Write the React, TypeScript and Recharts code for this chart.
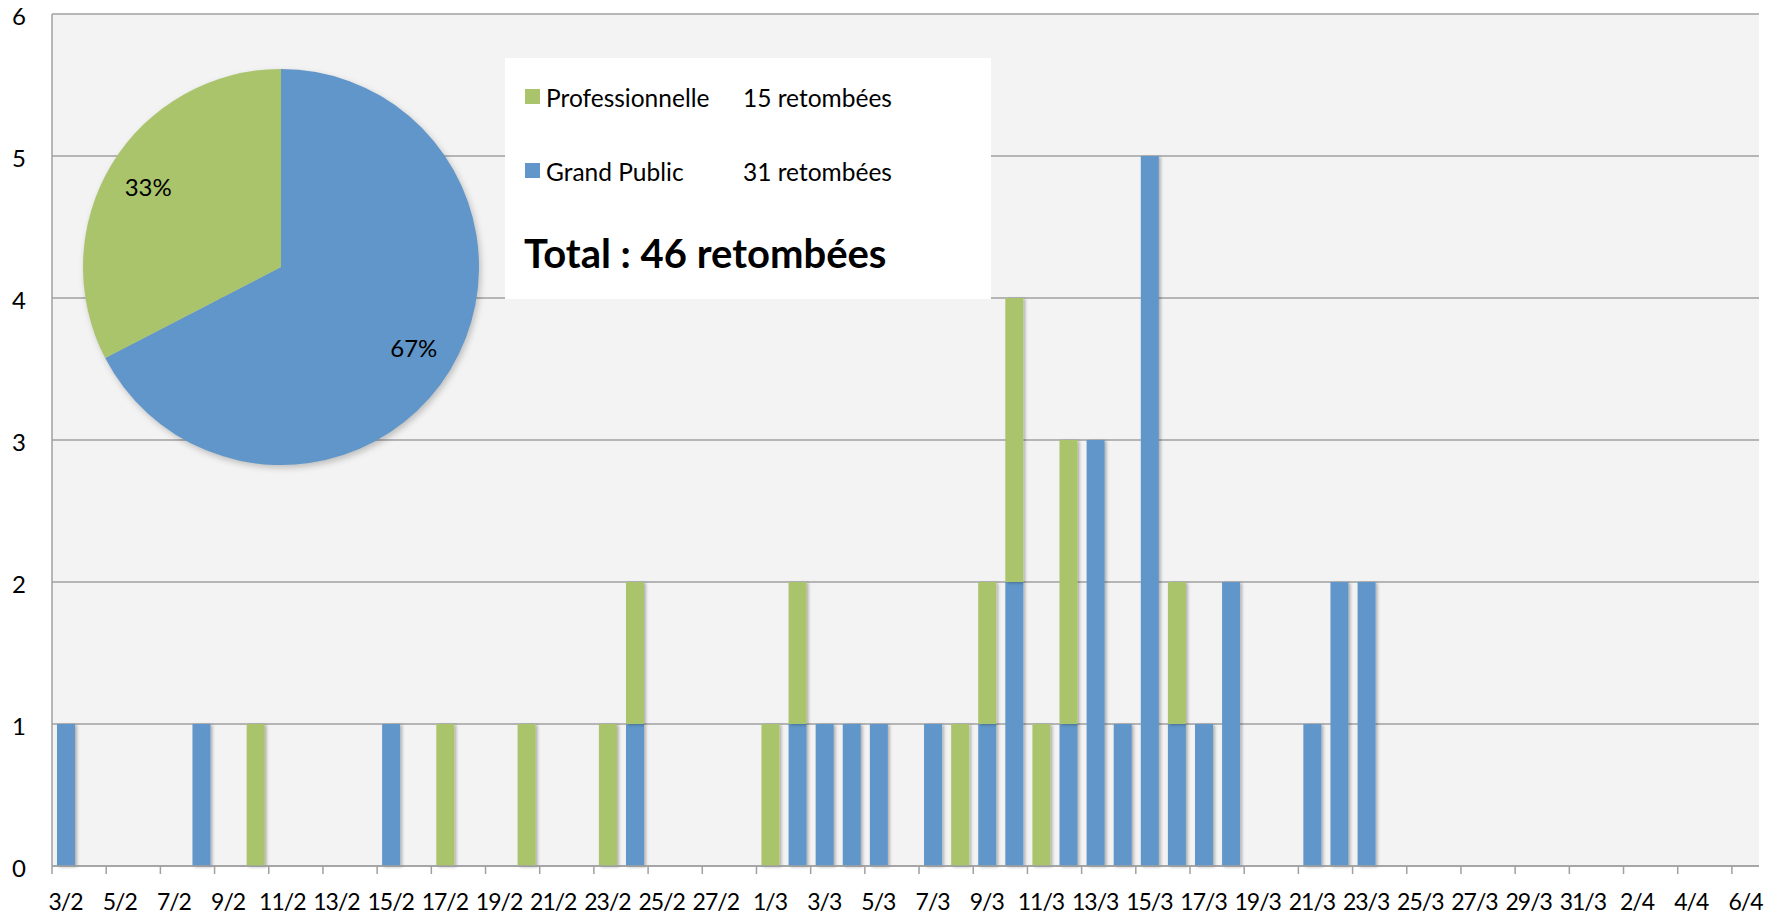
import React from 'react';
import { BarChart, Bar, XAxis, YAxis, CartesianGrid, PieChart, Pie, Cell } from 'recharts';

// Jours affichés sur l'axe (3 février – 6 avril)
const days = [
  '3/2', '4/2', '5/2', '6/2', '7/2', '8/2', '9/2', '10/2', '11/2', '12/2',
  '13/2', '14/2', '15/2', '16/2', '17/2', '18/2', '19/2', '20/2', '21/2', '22/2',
  '23/2', '24/2', '25/2', '26/2', '27/2', '28/2',
  '1/3', '2/3', '3/3', '4/3', '5/3', '6/3', '7/3', '8/3', '9/3', '10/3',
  '11/3', '12/3', '13/3', '14/3', '15/3', '16/3', '17/3', '18/3', '19/3', '20/3',
  '21/3', '22/3', '23/3', '24/3', '25/3', '26/3', '27/3', '28/3', '29/3', '30/3', '31/3',
  '1/4', '2/4', '3/4', '4/4', '5/4', '6/4',
];

// Retombées presse grand public, par jour
const grandPublic = [
  1, 0, 0, 0, 0, 1, 0, 0, 0, 0,
  0, 0, 1, 0, 0, 0, 0, 0, 0, 0,
  0, 1, 0, 0, 0, 0,
  0, 1, 1, 1, 1, 0, 1, 0, 1, 2,
  0, 1, 3, 1, 5, 1, 1, 2, 0, 0,
  1, 2, 2, 0, 0, 0, 0, 0, 0, 0, 0,
  0, 0, 0, 0, 0, 0,
];

// Retombées presse professionnelle, par jour
const professionnelle = [
  0, 0, 0, 0, 0, 0, 0, 1, 0, 0,
  0, 0, 0, 0, 1, 0, 0, 1, 0, 0,
  1, 1, 0, 0, 0, 0,
  1, 1, 0, 0, 0, 0, 0, 1, 1, 2,
  1, 2, 0, 0, 0, 1, 0, 0, 0, 0,
  0, 0, 0, 0, 0, 0, 0, 0, 0, 0, 0,
  0, 0, 0, 0, 0, 0,
];

const yTicks = [0, 1, 2, 3, 4, 5, 6];

const BLUE = '#6096C9';
const GREEN = '#AAC46C';
const GRID = '#A0A0A0';
const PLOT_BG = '#F3F3F3';
const FONT = 'Lato, "Open Sans", sans-serif';
const AXIS_FONT_SIZE = 23;

const CHART_W = 1780;
const CHART_H = 916;
const MARGIN = { top: 14, right: 21, bottom: 0, left: 0 };
const Y_AXIS_W = 52;
const X_AXIS_H = 50;
const BAND = (CHART_W - MARGIN.left - MARGIN.right - Y_AXIS_W) / days.length;

const sum = (arr: number[]) => arr.reduce((a, b) => a + b, 0);
const totalPublic = sum(grandPublic);
const totalPro = sum(professionnelle);
const totalAll = totalPublic + totalPro;

const rows = days.map((day, i) => ({
  day,
  grandPublic: grandPublic[i],
  professionnelle: professionnelle[i],
}));

const pieData = [
  { name: 'Grand Public', value: totalPublic, color: BLUE },
  { name: 'Professionnelle', value: totalPro, color: GREEN },
];

// Tick: trait au début de la journée, libellé centré sur la journée
const DayTick = (props: any) => {
  const { x, y, payload } = props;
  const left = x - BAND / 2;
  return (
    <g>
      <line x1={left} y1={y} x2={left} y2={y + 8} stroke={GRID} strokeWidth={1.5} />
      <text
        x={x}
        y={y + 44}
        textAnchor="middle"
        fontSize={AXIS_FONT_SIZE}
        letterSpacing={-1}
        fill="#000"
        fontFamily={FONT}
      >
        {payload.value}
      </text>
    </g>
  );
};

const ShadowBar = (props: any) => {
  const { x, y, width, height, fill } = props;
  if (!height || height <= 0) return null;
  return <rect x={x} y={y} width={width} height={height} fill={fill} filter="url(#barShadow)" />;
};

const RADIAN = Math.PI / 180;
const PieLabel = (props: any) => {
  const { cx, cy, midAngle, outerRadius, percent } = props;
  const r = outerRadius * 0.785;
  const lx = cx + r * Math.cos(-midAngle * RADIAN);
  const ly = cy + r * Math.sin(-midAngle * RADIAN);
  return (
    <text x={lx} y={ly} textAnchor="middle" dominantBaseline="central" fontSize={24} fill="#000" fontFamily={FONT}>
      {`${Math.round(percent * 100)}%`}
    </text>
  );
};

const LegendBox = () => (
  <svg
    width={486}
    height={241}
    style={{ position: 'absolute', left: 505, top: 58, fontFamily: FONT }}
  >
    <rect x={0} y={0} width={486} height={241} fill="#FFFFFF" />
    <rect x={20} y={31} width={15} height={15} fill={GREEN} />
    <text x={41} y={49} fontSize={24.5} fill="#000">Professionnelle</text>
    <text x={238} y={49} fontSize={24.5} fill="#000">{`${totalPro} retombées`}</text>
    <rect x={20} y={105} width={15} height={15} fill={BLUE} />
    <text x={41} y={123} fontSize={24.5} fill="#000">Grand Public</text>
    <text x={238} y={123} fontSize={24.5} fill="#000">{`${totalPublic} retombées`}</text>
    <text x={19} y={210} fontSize={40} fontWeight={700} fill="#000">{`Total : ${totalAll} retombées`}</text>
  </svg>
);

export default function App() {
  return (
    <div
      style={{
        position: 'absolute',
        left: 0,
        top: 0,
        width: CHART_W,
        height: CHART_H,
        background: '#FFFFFF',
        fontFamily: FONT,
      }}
    >
      <BarChart width={CHART_W} height={CHART_H} data={rows} margin={MARGIN} barSize={18}>
        <defs>
          <filter id="barShadow" x="-30%" y="-5%" width="170%" height="115%">
            <feDropShadow dx={2} dy={1} stdDeviation={1.6} floodColor="#000" floodOpacity={0.28} />
          </filter>
        </defs>
        <CartesianGrid vertical={false} stroke={GRID} strokeWidth={1.5} fill={PLOT_BG} fillOpacity={1} />
        <XAxis
          dataKey="day"
          height={X_AXIS_H}
          interval={1}
          tickLine={false}
          tickSize={0}
          tickMargin={0}
          axisLine={{ stroke: GRID, strokeWidth: 1.5 }}
          tick={<DayTick />}
        />
        <YAxis
          width={Y_AXIS_W}
          domain={[0, 6]}
          ticks={yTicks}
          interval={0}
          tickLine={false}
          tickSize={0}
          tickMargin={26}
          axisLine={{ stroke: GRID, strokeWidth: 1.5 }}
          tick={{ fontSize: 24, fill: '#000', fontFamily: FONT, dy: 2 }}
        />
        <Bar dataKey="grandPublic" stackId="r" fill={BLUE} shape={<ShadowBar />} isAnimationActive={false} />
        <Bar dataKey="professionnelle" stackId="r" fill={GREEN} shape={<ShadowBar />} isAnimationActive={false} />
      </BarChart>

      <div style={{ position: 'absolute', left: 0, top: 0, pointerEvents: 'none' }}>
        <PieChart width={CHART_W} height={CHART_H} margin={{ top: 0, right: 0, bottom: 0, left: 0 }}>
          <defs>
            <filter id="pieShadow" x="-10%" y="-10%" width="120%" height="120%">
              <feGaussianBlur stdDeviation={3} />
            </filter>
          </defs>
          <Pie
            data={[{ name: 'ombre', value: totalAll }]}
            dataKey="value"
            cx={283}
            cy={270}
            outerRadius={198}
            startAngle={90}
            endAngle={-270}
            stroke="none"
            isAnimationActive={false}
          >
            <Cell fill="#000" fillOpacity={0.22} filter="url(#pieShadow)" />
          </Pie>
          <Pie
            data={pieData}
            dataKey="value"
            cx={281}
            cy={267}
            outerRadius={198}
            startAngle={90}
            endAngle={-270}
            stroke="none"
            label={PieLabel}
            labelLine={false}
            isAnimationActive={false}
          >
            {pieData.map((d) => (
              <Cell key={d.name} fill={d.color} />
            ))}
          </Pie>
        </PieChart>
        <LegendBox />
      </div>
    </div>
  );
}
